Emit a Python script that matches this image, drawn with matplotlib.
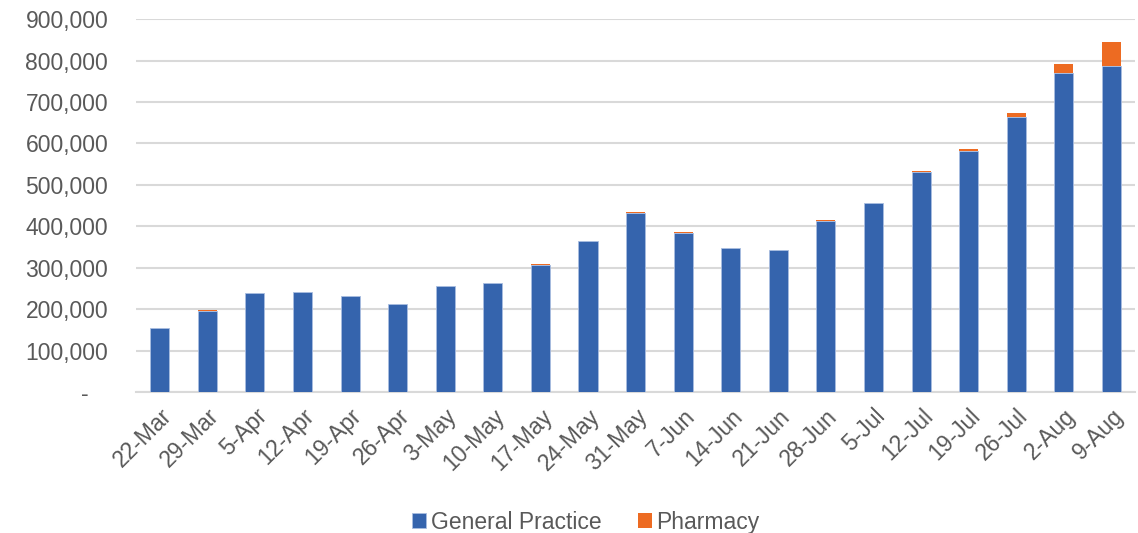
import matplotlib.pyplot as plt
from matplotlib.ticker import FuncFormatter

plt.rcParams["font.family"] = ["Liberation Sans", "DejaVu Sans"]

weeks = ["22-Mar", "29-Mar", "5-Apr", "12-Apr", "19-Apr", "26-Apr", "3-May", "10-May",
         "17-May", "24-May", "31-May", "7-Jun", "14-Jun", "21-Jun", "28-Jun", "5-Jul",
         "12-Jul", "19-Jul", "26-Jul", "2-Aug", "9-Aug"]
general_practice = [155000, 196000, 238000, 241500, 231000, 213000, 255500, 262000,
                    307500, 364000, 433000, 385000, 346500, 343000, 413000, 456000,
                    531500, 582000, 665000, 771000, 788000]
pharmacy = [0, 1000, 1000, 0, 0, 0, 0, 1000, 1500, 0, 1000, 1000, 1500, 500, 2000, 0,
            1500, 3500, 8000, 20000, 58000]

blue = "#3564ad"
orange = "#ed6b22"
grey = "#595959"

fig = plt.figure(figsize=(11.38, 5.33), dpi=100)
ax = fig.add_axes([0.1195, 0.2645, 0.878, 0.6995])

x = range(len(weeks))
ax.bar(x, general_practice, width=0.4, color=blue, edgecolor="#a9bde0", linewidth=0.6,
       label="General Practice", zorder=3)
ax.bar(x, pharmacy, width=0.4, bottom=general_practice, color=orange, linewidth=0,
       label="Pharmacy", zorder=3)

ax.set_ylim(0, 900000)
ax.set_xlim(-0.5, len(weeks) - 0.5)
ax.set_yticks(range(0, 900001, 100000))
# Excel-style accounting format: zero shown as a dash
ax.yaxis.set_major_formatter(FuncFormatter(lambda v, p: "-   " if v == 0 else f"{int(v):,}"))
ax.grid(axis="y", color="#d9d9d9", linewidth=1.5, zorder=0)
for s in ["top", "right", "left"]:
    ax.spines[s].set_visible(False)
ax.spines["bottom"].set_color("#d9d9d9")
ax.spines["bottom"].set_linewidth(1.5)
ax.tick_params(axis="both", length=0, colors=grey, labelsize=16.5)
ax.tick_params(axis="y", pad=20)
ax.set_xticks(list(x))
ax.set_xticklabels(weeks, rotation=45, ha="right", rotation_mode="anchor")
ax.tick_params(axis="x", pad=9)

fig.legend(loc="lower center", ncol=2, frameon=False, fontsize=16.5, labelcolor=grey,
           handlelength=0.6, handleheight=0.6, handletextpad=0.2, columnspacing=1.6,
           bbox_to_anchor=(0.515, -0.04))

fig.savefig("out.png", dpi=100)
